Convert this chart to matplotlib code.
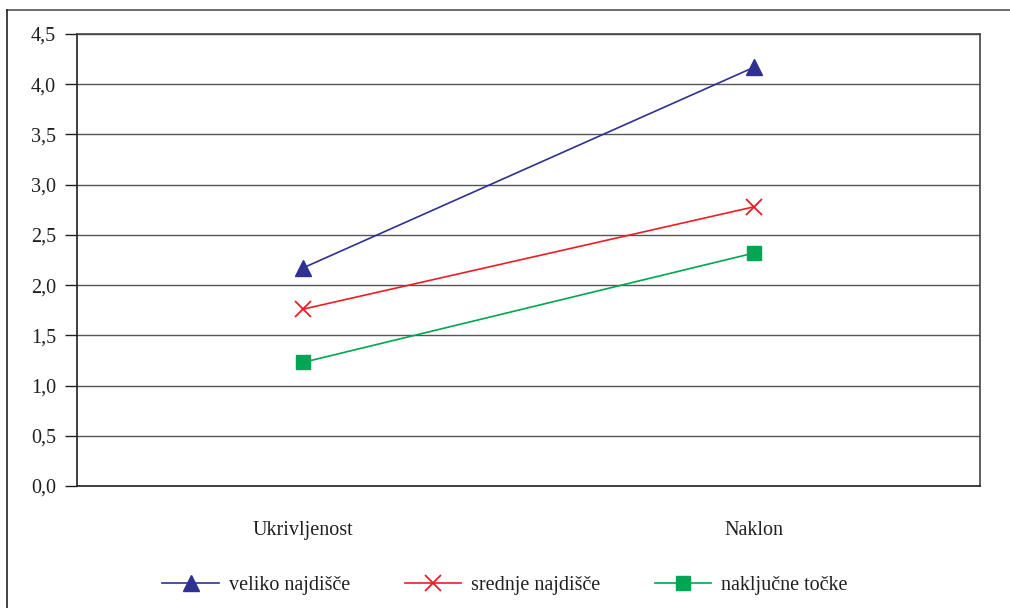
import matplotlib
matplotlib.use("Agg")
import matplotlib.pyplot as plt
from matplotlib.lines import Line2D
from matplotlib.ticker import FuncFormatter, MultipleLocator

categories = ["Ukrivljenost", "Naklon"]
series_names = ["veliko najdišče", "srednje najdišče", "naključne točke"]
veliko = [2.17, 4.17]
srednje = [1.76, 2.78]
nakljucne = [1.23, 2.32]

plt.rcParams['font.family'] = ['Liberation Serif', 'DejaVu Serif']

W, H = 1010, 608
FS = 14.5
fig = plt.figure(figsize=(W / 100, H / 100), dpi=100)
ax = fig.add_axes([77 / W, 1 - 486 / H, (980 - 77) / W, (486 - 34) / H])

x = list(range(len(categories)))
styles = [
    dict(color="#2e3192", marker="^", markersize=11, mec="#2e3192", mfc="#2e3192"),
    dict(color="#ed1c24", marker="x", markersize=11, mew=1.3),
    dict(color="#00a651", marker="s", markersize=10, mec="#00a651", mfc="#00a651"),
]
for vals, name, st in zip([veliko, srednje, nakljucne], series_names, styles):
    ax.plot(x, vals, lw=1.2, label=name, clip_on=False, **st)

ax.set_xlim(-0.5, len(categories) - 0.5)
ax.set_ylim(0, 4.5)
ax.yaxis.set_major_locator(MultipleLocator(0.5))
ax.yaxis.set_major_formatter(FuncFormatter(lambda v, p: f"{v:.1f}".replace(".", ",")))
ax.grid(axis="y", color="#555555", lw=1.0)
ax.set_axisbelow(True)
ax.set_xticks(x)
ax.set_xticklabels(categories)
ax.tick_params(axis="x", length=0, pad=25, labelsize=FS, colors="#231f20")
ax.tick_params(axis="y", length=9, width=1, direction="out", pad=6,
               labelsize=FS, colors="#231f20")
for s in ["left", "bottom"]:
    ax.spines[s].set_color("#231f20")
    ax.spines[s].set_linewidth(1.2)
for s in ["top", "right"]:
    ax.spines[s].set_color("#444444")
    ax.spines[s].set_linewidth(1.2)

leg = fig.legend(loc="center", bbox_to_anchor=(0.5, 1 - 585 / H), ncol=3,
                 frameon=False, fontsize=FS, handlelength=2.8,
                 handletextpad=0.5, columnspacing=2.7)
for t in leg.get_texts():
    t.set_color("#231f20")

# figure border (top and left)
fig.add_artist(Line2D([7 / W, 1.0], [1 - 10 / H, 1 - 10 / H], color="#555555", lw=1.2,
                      transform=fig.transFigure))
fig.add_artist(Line2D([7 / W, 7 / W], [0, 1 - 10 / H], color="#231f20", lw=1.2,
                      transform=fig.transFigure))

fig.savefig("out.png", dpi=100, facecolor="white")
